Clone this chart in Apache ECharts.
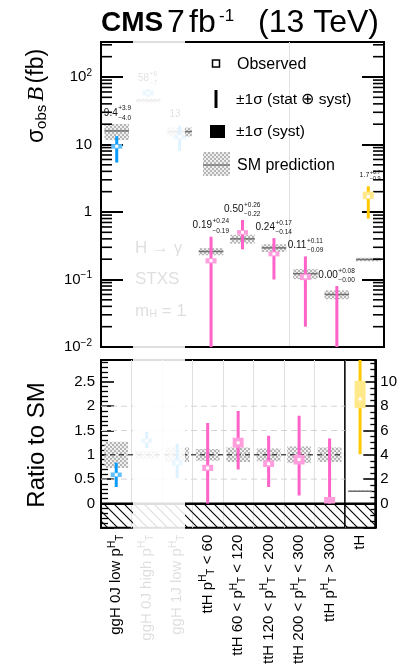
<!DOCTYPE html>
<html><head><meta charset="utf-8">
<script src="https://cdn.jsdelivr.net/npm/echarts@6/dist/echarts.min.js"></script>
<style>html,body{margin:0;padding:0;background:#fff}#c{width:400px;height:667px}</style>
</head><body><div id="c"></div>
<script>
// ---------------- data ----------------
const categories = ['ggH 0J low p_T^H', 'ggH 0J high p_T^H', 'ggH 1J low p_T^H', 'ttH p_T^H < 60',
  'ttH 60 < p_T^H < 120', 'ttH 120 < p_T^H < 200', 'ttH 200 < p_T^H < 300', 'ttH p_T^H > 300', 'tH'];
const production = ['ggH', 'ggH', 'ggH', 'ttH', 'ttH', 'ttH', 'ttH', 'ttH', 'tH'];
const observed   = [9.4, 58, 13, 0.19, 0.50, 0.24, 0.11, 0.00, 1.7];
const totalUp    = [3.9, 8, 6, 0.24, 0.26, 0.17, 0.11, 0.08, 0.7];
const totalDown  = [4.0, 7, 5, 0.19, 0.22, 0.14, 0.09, 0.00, 0.9];
const systUp     = [0.7, 2, 1, 0.017, 0.04, 0.02, 0.012, 0.008, 0.3];
const systDown   = [0.7, 2, 1, 0.017, 0.04, 0.02, 0.012, 0.0, 0.15];
const smPrediction = [15.9, 45, 15.5, 0.26, 0.40, 0.294, 0.122, 0.060, 0.198];
const smRelUnc     = [0.27, 0.08, 0.15, 0.12, 0.15, 0.13, 0.17, 0.15, 0.06];
const valueText = ['9.4', '58', '13', '0.19', '0.50', '0.24', '0.11', '0.00', '1.7'];
const upText    = ['+3.9', '+8', '', '+0.24', '+0.26', '+0.17', '+0.11', '+0.08', '+0.7'];
const downText  = ['\u22124.0', '\u22127', '', '\u22120.19', '\u22120.22', '\u22120.14', '\u22120.09', '\u22120.00', '\u22120.9'];
const logMajorTicks = [0.01, 0.1, 1, 10, 100];
const logTickLabels = ['10{s|\u22122}', '10{s|\u22121}', '1', '10', '10{s|2}'];
const logMinorTicks = [0.02, 0.03, 0.04, 0.05, 0.06, 0.07, 0.08, 0.09,
  0.2, 0.3, 0.4, 0.5, 0.6, 0.7, 0.8, 0.9,
  2, 3, 4, 5, 6, 7, 8, 9,
  20, 30, 40, 50, 60, 70, 80, 90,
  200, 300];
const ratioTicks = [0, 0.5, 1, 1.5, 2, 2.5];
const ratioTickLabels = ['0', '0.5', '1', '1.5', '2', '2.5'];
const tHRatioTicks = [0, 2, 4, 6, 8, 10];
const tHRatioTickLabels = ['0', '2', '4', '6', '8', '10'];
const ratioDashedLines = [0.5, 1.5, 2];

// ---------------- style ----------------
const FONT = "'Liberation Sans', Arial, Helvetica, sans-serif";
const markColor = { ggH: '#0a9bff', ttH: '#ff62c9', tH: '#ffc800' };
const systColor = { ggH: '#62c0ff', ttH: '#ff9edd', tH: '#ffe98a' };
const TICK = '#000';

function makeChecker() {
  const c = document.createElement('canvas'); c.width = 4; c.height = 4;
  const g = c.getContext('2d');
  g.fillStyle = '#f0f0f0'; g.fillRect(0, 0, 4, 4);
  g.fillStyle = '#b5b5b5'; g.fillRect(0, 0, 2, 2); g.fillRect(2, 2, 2, 2);
  return { type: 'pattern', image: c, repeat: 'repeat' };
}
function makeHatch() {
  const s = 10;
  const c = document.createElement('canvas'); c.width = s; c.height = s;
  const g = c.getContext('2d');
  g.strokeStyle = '#000'; g.lineWidth = 1.1;
  g.beginPath();
  g.moveTo(-1, -1); g.lineTo(s + 1, s + 1);
  g.moveTo(-1, s - 1); g.lineTo(1, s + 1);
  g.moveTo(s - 1, -1); g.lineTo(s + 1, 1);
  g.stroke();
  return { type: 'pattern', image: c, repeat: 'repeat' };
}
const checker = makeChecker();
const hatch = makeHatch();
const nCat = categories.length;
const tHIndex = categories.indexOf('tH');

function bandW(params) { return params.coordSys.width / nCat; }

// SM prediction band
function smRenderer(isRatio, drawLine) {
  return function (params, api) {
    const i = api.value(0);
    const c = isRatio ? 1 : smPrediction[i];
    const u = smRelUnc[i];
    const cx = api.coord([i, c])[0];
    const yc = api.coord([i, c])[1];
    const yHi = api.coord([i, c * (1 + u)])[1];
    const yLo = api.coord([i, c * (1 - u)])[1];
    const w = bandW(params) * 0.78;
    const ch = [{ type: 'rect', shape: { x: cx - w / 2, y: yHi, width: w, height: yLo - yHi }, style: { fill: checker } }];
    if (drawLine) ch.push({ type: 'line', shape: { x1: cx - w / 2, y1: yc, x2: cx + w / 2, y2: yc }, style: { stroke: '#6e6e6e', lineWidth: 1.5 } });
    return { type: 'group', children: ch };
  };
}

// observed + uncertainties
function errRenderer(isRatio) {
  return function (params, api) {
    const i = api.value(0);
    const sc = isRatio ? smPrediction[i] : 1;
    const fl = v => isRatio ? v / sc : Math.max(v, 1e-4);
    const cx = api.coord([i, isRatio ? 1 : smPrediction[i]])[0];
    const yTop = api.coord([i, fl(observed[i] + totalUp[i])])[1];
    const yBot = api.coord([i, fl(observed[i] - totalDown[i])])[1];
    let sTop = api.coord([i, fl(observed[i] + systUp[i])])[1];
    let sBot = api.coord([i, fl(observed[i] - systDown[i])])[1];
    const oy = api.coord([i, fl(observed[i])])[1];
    if (sBot - sTop < 4.5) { const m = (sBot + sTop) / 2; sTop = m - 2.25; sBot = m + 2.25; }
    const p = production[i];
    const ch = [
      { type: 'line', shape: { x1: cx, y1: yTop, x2: cx, y2: yBot }, style: { stroke: markColor[p], lineWidth: 3 } },
      { type: 'rect', shape: { x: cx - 5.5, y: sTop, width: 11, height: sBot - sTop }, style: { fill: systColor[p] } }
    ];
    if (observed[i] > 0) ch.push({ type: 'rect', shape: { x: cx - 1.5, y: oy - 1.5, width: 3, height: 3 }, style: { fill: '#fff' } });
    return { type: 'group', children: ch };
  };
}

function labelRenderer(params, api) {
  const i = api.value(0);
  const cx = api.coord([i, smPrediction[i]])[0];
  const topErr = api.coord([i, observed[i] + totalUp[i]])[1];
  const topBand = api.coord([i, smPrediction[i] * (1 + smRelUnc[i])])[1];
  const y = Math.min(topErr, topBand) - 11;
  const fs = production[i] === 'tH' ? 7 : 10;
  const ss = production[i] === 'tH' ? 5.5 : 6.5;
  return { type: 'group', children: [
    { type: 'text', x: cx + 1, y: y, style: { text: valueText[i], textAlign: 'right', textVerticalAlign: 'middle', fontSize: fs, fontFamily: FONT, fill: '#111' } },
    { type: 'text', x: cx + 1.5, y: y - fs * 0.42, style: { text: upText[i], textAlign: 'left', textVerticalAlign: 'middle', fontSize: ss, fontFamily: FONT, fill: '#111' } },
    { type: 'text', x: cx + 1.5, y: y + fs * 0.5, style: { text: downText[i], textAlign: 'left', textVerticalAlign: 'middle', fontSize: ss, fontFamily: FONT, fill: '#111' } }
  ] };
}

function minorTickRenderer(params, api) {
  const cs = params.coordSys;
  const y = api.coord([0, api.value(1)])[1];
  return { type: 'group', children: [
    { type: 'line', shape: { x1: cs.x, y1: y, x2: cs.x + 11, y2: y }, style: { stroke: TICK, lineWidth: 1.6 } },
    { type: 'line', shape: { x1: cs.x + cs.width - 11, y1: y, x2: cs.x + cs.width, y2: y }, style: { stroke: TICK, lineWidth: 1.6 } }
  ] };
}

function bottomDecor(params, api) {
  const cs = params.coordSys;
  const y0 = api.coord([0, 0])[1];
  const xSep = cs.x + tHIndex * bandW(params);
  const ch = [
    { type: 'rect', shape: { x: cs.x, y: y0, width: cs.width, height: cs.y + cs.height - y0 }, style: { fill: hatch } },
    { type: 'line', shape: { x1: cs.x, y1: y0, x2: cs.x + cs.width, y2: y0 }, style: { stroke: '#000', lineWidth: 2 } },
    { type: 'line', shape: { x1: xSep, y1: cs.y, x2: xSep, y2: cs.y + cs.height }, style: { stroke: '#000', lineWidth: 1.5 } }
  ];
  ratioDashedLines.forEach(v => {
    const y = api.coord([0, v])[1];
    ch.push({ type: 'line', shape: { x1: cs.x, y1: y, x2: xSep, y2: y }, style: { stroke: '#d4d4d4', lineWidth: 1, lineDash: [6, 4] } });
  });
  return { type: 'group', children: ch };
}
function smLineDecor(params, api) {
  const cs = params.coordSys;
  const xSep = cs.x + tHIndex * bandW(params);
  const y1 = api.coord([0, 1])[1];
  return { type: 'line', shape: { x1: cs.x, y1: y1, x2: xSep, y2: y1 }, style: { stroke: '#000', lineWidth: 1, lineDash: [5, 4] } };
}

const allIdx = categories.map((c, i) => [i]);
const leftIdx = allIdx.filter(d => d[0] !== tHIndex);
const rightIdx = allIdx.filter(d => d[0] === tHIndex);

const axisBlack = { show: true, lineStyle: { color: '#000', width: 2 } };
const gridSplit = { show: true, lineStyle: { color: '#e0e0e0', width: 1 } };

const option = {
  animation: false,
  backgroundColor: '#fff',
  grid: [
    { left: 101, top: 42, width: 283, height: 305, show: true, borderColor: '#000', borderWidth: 2 },
    { left: 101, top: 360, width: 283, height: 171, show: true, borderColor: '#000', borderWidth: 2 }
  ],
  xAxis: [
    { gridIndex: 0, type: 'category', data: categories, axisLabel: { show: false }, axisTick: { show: false }, axisLine: axisBlack, splitLine: gridSplit },
    { gridIndex: 1, type: 'category', data: categories, axisTick: { show: false }, axisLine: axisBlack, splitLine: gridSplit,
      axisLabel: { interval: 0, rotate: 90, margin: 7, fontSize: 15, lineHeight: 18, color: '#000', fontFamily: FONT,
        formatter: n => n.replace('p_T^H', '{p|p}{h|H}{t|T}'),
        rich: { p: { fontSize: 15, fontFamily: FONT, color: '#000' },
                h: { fontSize: 10, fontFamily: FONT, color: '#000', verticalAlign: 'top' },
                t: { fontSize: 10, fontFamily: FONT, color: '#000', verticalAlign: 'bottom' } } } }
  ],
  yAxis: [
    { gridIndex: 0, type: 'log', logBase: 10, min: 0.01, max: 330, position: 'left', axisLine: axisBlack,
      axisTick: { show: true, inside: true, length: 22, lineStyle: { color: TICK, width: 2 } }, splitLine: { show: false },
      axisLabel: { margin: 9, fontSize: 15, color: '#000', fontFamily: FONT, lineHeight: 18,
        formatter: v => { const k = logMajorTicks.findIndex(t => Math.abs(v / t - 1) < 1e-6); return k < 0 ? '' : logTickLabels[k]; },
        rich: { s: { fontSize: 10, fontFamily: FONT, color: '#000', verticalAlign: 'top' } } } },
    { gridIndex: 0, type: 'log', logBase: 10, min: 0.01, max: 330, position: 'right', axisLine: axisBlack,
      axisTick: { show: true, inside: true, length: 22, lineStyle: { color: TICK, width: 2 } }, splitLine: { show: false }, axisLabel: { show: false } },
    { gridIndex: 1, type: 'value', min: -0.5, max: 2.95, interval: 0.5, position: 'left', axisLine: axisBlack,
      axisTick: { show: true, inside: true, length: 13, lineStyle: { color: TICK, width: 1.6 } },
      minorTick: { show: true, splitNumber: 5, length: 7, lineStyle: { color: TICK, width: 1.3 } }, splitLine: { show: false },
      axisLabel: { margin: 6, fontSize: 15, color: '#000', fontFamily: FONT,
        formatter: v => { const k = ratioTicks.findIndex(t => Math.abs(v - t) < 1e-6); return k < 0 ? '' : ratioTickLabels[k]; } } },
    { gridIndex: 1, type: 'value', min: -2, max: 11.8, interval: 2, position: 'right', axisLine: axisBlack,
      axisTick: { show: true, inside: true, length: 12, lineStyle: { color: TICK, width: 1.6 } },
      minorTick: { show: true, splitNumber: 4, length: 5, lineStyle: { color: TICK, width: 1.3 } }, splitLine: { show: false },
      axisLabel: { margin: 5, fontSize: 15, color: '#000', fontFamily: FONT,
        formatter: v => { const k = tHRatioTicks.findIndex(t => Math.abs(v - t) < 1e-6); return k < 0 ? '' : tHRatioTickLabels[k]; } } }
  ],
  series: [
    { type: 'custom', name: 'logMinorTicks', xAxisIndex: 0, yAxisIndex: 0, clip: true, z: 3, data: logMinorTicks.map(v => [0, v]), renderItem: minorTickRenderer },
    { type: 'custom', name: 'SM prediction', xAxisIndex: 0, yAxisIndex: 0, clip: true, z: 2, data: allIdx, renderItem: smRenderer(false, true) },
    { type: 'custom', name: 'Observed', xAxisIndex: 0, yAxisIndex: 0, clip: true, z: 4, data: allIdx, renderItem: errRenderer(false) },
    { type: 'custom', name: 'labels', xAxisIndex: 0, yAxisIndex: 0, clip: true, z: 5, data: allIdx, renderItem: labelRenderer },
    { type: 'custom', name: 'hatch', xAxisIndex: 1, yAxisIndex: 2, clip: true, z: 1, data: [[0]], renderItem: bottomDecor },
    { type: 'custom', name: 'SM ratio', xAxisIndex: 1, yAxisIndex: 2, clip: true, z: 2, data: leftIdx, renderItem: smRenderer(true, false) },
    { type: 'custom', name: 'SM ratio tH', xAxisIndex: 1, yAxisIndex: 3, clip: true, z: 2, data: rightIdx, renderItem: smRenderer(true, true) },
    { type: 'custom', name: 'SM line', xAxisIndex: 1, yAxisIndex: 2, clip: true, z: 3, data: [[0]], renderItem: smLineDecor },
    { type: 'custom', name: 'Ratio', xAxisIndex: 1, yAxisIndex: 2, clip: true, z: 4, data: leftIdx, renderItem: errRenderer(true) },
    { type: 'custom', name: 'Ratio tH', xAxisIndex: 1, yAxisIndex: 3, clip: true, z: 4, data: rightIdx, renderItem: errRenderer(true) }
  ],
  graphic: [
    // title
    { type: 'text', x: 101, y: 23, z: 60, style: { text: 'CMS', fontSize: 28, fontWeight: 'bold', fontFamily: FONT, fill: '#000', textVerticalAlign: 'middle' } },
    { type: 'text', x: 167, y: 23, z: 60, style: { text: '7', fontSize: 32, fontFamily: FONT, fill: '#000', textVerticalAlign: 'middle' } },
    { type: 'text', x: 189, y: 23, z: 60, style: { text: 'fb', fontSize: 32, fontFamily: FONT, fill: '#000', textVerticalAlign: 'middle' } },
    { type: 'text', x: 219, y: 16, z: 60, style: { text: '-1', fontSize: 17, fontFamily: FONT, fill: '#000', textVerticalAlign: 'middle' } },
    { type: 'text', x: 258, y: 23, z: 60, style: { text: '(13 TeV)', fontSize: 32, fontFamily: FONT, fill: '#000', textVerticalAlign: 'middle' } },
    // axis titles
    { type: 'text', x: 37, y: 96, rotation: Math.PI / 2, z: 60,
      style: { text: '{a|\u03c3}{b|obs} {c|B} {a|(fb)}', textAlign: 'center', textVerticalAlign: 'middle',
        rich: { a: { fontSize: 23, fontFamily: FONT, fill: '#000' },
                b: { fontSize: 15, fontFamily: FONT, fill: '#000', verticalAlign: 'bottom' },
                c: { fontSize: 24, fontFamily: "'Liberation Serif', 'DejaVu Serif', serif", fontStyle: 'italic', fill: '#000' } } } },
    { type: 'text', x: 37, y: 445, rotation: Math.PI / 2, z: 60,
      style: { text: 'Ratio to SM', textAlign: 'center', textVerticalAlign: 'middle', fontSize: 24, fontFamily: FONT, fill: '#000' } },
    // legend
    { type: 'rect', z: 60, shape: { x: 212.5, y: 60, width: 7, height: 7 }, style: { fill: '#fff', stroke: '#000', lineWidth: 1.5 } },
    { type: 'line', z: 60, shape: { x1: 216, y1: 90, x2: 216, y2: 108 }, style: { stroke: '#000', lineWidth: 3 } },
    { type: 'rect', z: 60, shape: { x: 210, y: 125, width: 15, height: 13 }, style: { fill: '#000' } },
    { type: 'rect', z: 60, shape: { x: 203, y: 152, width: 27, height: 24 }, style: { fill: checker } },
    { type: 'line', z: 61, shape: { x1: 203, y1: 165, x2: 230, y2: 165 }, style: { stroke: '#777', lineWidth: 1.5 } },
    { type: 'text', x: 237, y: 65, z: 60, style: { text: 'Observed', fontSize: 16, fontFamily: FONT, fill: '#000', textVerticalAlign: 'middle' } },
    { type: 'text', x: 236, y: 100, z: 60, style: { text: '\u00b11\u03c3 (stat \u2295 syst)', fontSize: 15.5, fontFamily: FONT, fill: '#000', textVerticalAlign: 'middle' } },
    { type: 'text', x: 236, y: 132, z: 60, style: { text: '\u00b11\u03c3 (syst)', fontSize: 15.5, fontFamily: FONT, fill: '#000', textVerticalAlign: 'middle' } },
    { type: 'text', x: 237, y: 166, z: 60, style: { text: 'SM prediction', fontSize: 16, fontFamily: FONT, fill: '#000', textVerticalAlign: 'middle' } },
    // faded analysis text (under the veil)
    { type: 'text', x: 135, y: 248, z: 50, style: { text: 'H \u2192 \u03b3', fontSize: 17, fontFamily: FONT, fill: '#000', textVerticalAlign: 'middle' } },
    { type: 'text', x: 135, y: 279, z: 50, style: { text: 'STXS', fontSize: 17, fontFamily: FONT, fill: '#000', textVerticalAlign: 'middle' } },
    { type: 'text', x: 135, y: 311, z: 50,
      style: { text: '{m|m}{s|H}{m| = 1}', textVerticalAlign: 'middle',
        rich: { m: { fontSize: 17, fontFamily: FONT, fill: '#000' }, s: { fontSize: 11, fontFamily: FONT, fill: '#000', verticalAlign: 'bottom' } } } },
    // white veil
    { type: 'rect', z: 100, shape: { x: 133, y: 41, width: 52, height: 626 }, style: { fill: 'rgba(255,255,255,0.87)' } }
  ]
};

const chart = echarts.init(document.getElementById('c'), null, { renderer: 'canvas' });
chart.setOption(option);
</script>
</body></html>
